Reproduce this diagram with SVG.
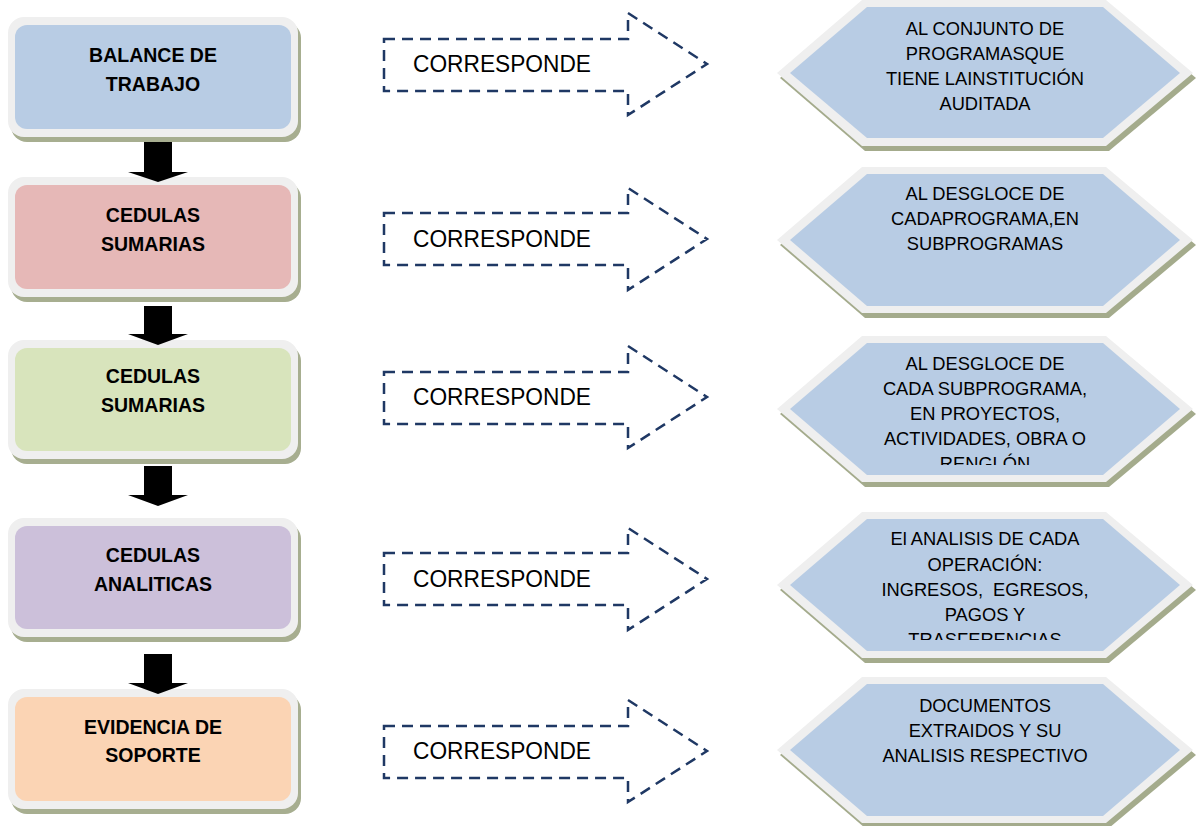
<svg xmlns="http://www.w3.org/2000/svg" width="1196" height="826" viewBox="0 0 1196 826">
<style>
.bshadow{fill:#a7ae90}
.bouter{fill:#efefef}
.btext{font-family:"Liberation Sans",Arial,sans-serif;font-weight:bold;font-size:19.5px;fill:#000;text-anchor:middle}
.hshadow{fill:#a4ab8c}
.houter{fill:#efefef}
.hinner{fill:#b8cce4}
.htext{font-family:"Liberation Sans",Arial,sans-serif;font-size:18.3px;fill:#000;text-anchor:middle}
.darrow{fill:none;stroke:#1f3864;stroke-width:2.5;stroke-dasharray:11 7}
.ctext{font-family:"Liberation Sans",Arial,sans-serif;font-size:23px;fill:#000}
.flow{fill:#000}
</style>
<defs>
<clipPath id="clip3"><rect x="790" y="343" width="390" height="122"/></clipPath>
<clipPath id="clip4"><rect x="790" y="519" width="390" height="121"/></clipPath>
</defs>

<g id="box1">
<rect class="bshadow" x="11" y="22" width="290" height="120" rx="16"/>
<rect class="bouter" x="8" y="17" width="290" height="120" rx="16"/>
<rect x="15" y="25" width="276" height="104" rx="12" fill="#b8cce4"/>
<text class="btext" x="153" y="62">BALANCE DE</text>
<text class="btext" x="153" y="91">TRABAJO</text>
</g>
<g id="box2">
<rect class="bshadow" x="11" y="182" width="290" height="120" rx="16"/>
<rect class="bouter" x="8" y="177" width="290" height="120" rx="16"/>
<rect x="15" y="185" width="276" height="104" rx="12" fill="#e6b8b7"/>
<text class="btext" x="153" y="222">CEDULAS</text>
<text class="btext" x="153" y="251">SUMARIAS</text>
</g>
<g id="box3">
<rect class="bshadow" x="11" y="345" width="290" height="119" rx="16"/>
<rect class="bouter" x="8" y="340" width="290" height="119" rx="16"/>
<rect x="15" y="348" width="276" height="103" rx="12" fill="#d8e4bc"/>
<text class="btext" x="153" y="383">CEDULAS</text>
<text class="btext" x="153" y="412">SUMARIAS</text>
</g>
<g id="box4">
<rect class="bshadow" x="11" y="523" width="290" height="119" rx="16"/>
<rect class="bouter" x="8" y="518" width="290" height="119" rx="16"/>
<rect x="15" y="526" width="276" height="103" rx="12" fill="#ccc0da"/>
<text class="btext" x="153" y="562">CEDULAS</text>
<text class="btext" x="153" y="591">ANALITICAS</text>
</g>
<g id="box5">
<rect class="bshadow" x="11" y="694" width="290" height="120" rx="16"/>
<rect class="bouter" x="8" y="689" width="290" height="120" rx="16"/>
<rect x="15" y="697" width="276" height="104" rx="12" fill="#fbd4b4"/>
<text class="btext" x="153" y="734">EVIDENCIA DE</text>
<text class="btext" x="153" y="762">SOPORTE</text>
</g>

<g id="hex1">
<polygon class="hshadow" points="780,78 865,5 1109,5 1196,78 1109,151 865,151"/>
<polygon class="houter" points="777,73 862,0 1106,0 1193,73 1106,146 862,146"/>
<polygon class="hinner" points="790,73 867,7 1103,7 1180,73 1103,138 867,138"/>
<text class="htext" x="985" y="35">AL CONJUNTO DE</text>
<text class="htext" x="985" y="60">PROGRAMASQUE</text>
<text class="htext" x="985" y="85">TIENE LAINSTITUCIÓN</text>
<text class="htext" x="985" y="110">AUDITADA</text>
</g>
<g id="hex2">
<polygon class="hshadow" points="780,245 865,172 1109,172 1196,245 1109,318 865,318"/>
<polygon class="houter" points="777,240 862,167 1106,167 1193,240 1106,313 862,313"/>
<polygon class="hinner" points="790,240 867,174 1103,174 1180,240 1103,306 867,306"/>
<text class="htext" x="985" y="200">AL DESGLOCE DE</text>
<text class="htext" x="985" y="225">CADAPROGRAMA,EN</text>
<text class="htext" x="985" y="250">SUBPROGRAMAS</text>
</g>
<g id="hex3">
<polygon class="hshadow" points="780,414 865,341 1109,341 1196,414 1109,487 865,487"/>
<polygon class="houter" points="777,409 862,336 1106,336 1193,409 1106,482 862,482"/>
<polygon class="hinner" points="790,409 867,343 1103,343 1180,409 1103,475 867,475"/>
<g clip-path="url(#clip3)">
<text class="htext" x="985" y="370">AL DESGLOCE DE</text>
<text class="htext" x="985" y="395">CADA SUBPROGRAMA,</text>
<text class="htext" x="985" y="420">EN PROYECTOS,</text>
<text class="htext" x="985" y="445">ACTIVIDADES, OBRA O</text>
<text class="htext" x="985" y="470">RENGLÓN</text>
</g>
</g>
<g id="hex4">
<polygon class="hshadow" points="780,590 865,517 1109,517 1196,590 1109,663 865,663"/>
<polygon class="houter" points="777,585 862,512 1106,512 1193,585 1106,658 862,658"/>
<polygon class="hinner" points="790,585 867,519 1103,519 1180,585 1103,651 867,651"/>
<g clip-path="url(#clip4)">
<text class="htext" x="985" y="545">El ANALISIS DE CADA</text>
<text class="htext" x="985" y="571">OPERACIÓN:</text>
<text class="htext" x="985" y="596" xml:space="preserve">INGRESOS,  EGRESOS,</text>
<text class="htext" x="985" y="621">PAGOS Y</text>
<text class="htext" x="985" y="646">TRASFERENCIAS</text>
</g>
</g>
<g id="hex5">
<polygon class="hshadow" points="780,755 865,682 1109,682 1196,755 1109,828 865,828"/>
<polygon class="houter" points="777,750 862,677 1106,677 1193,750 1106,823 862,823"/>
<polygon class="hinner" points="790,750 867,684 1103,684 1180,750 1103,816 867,816"/>
<text class="htext" x="985" y="712">DOCUMENTOS</text>
<text class="htext" x="985" y="737">EXTRAIDOS Y SU</text>
<text class="htext" x="985" y="762">ANALISIS RESPECTIVO</text>
</g>

<g id="connectors">
<polygon class="flow" points="144,142 172,142 172,172 188,172 158,182 128,172 144,172"/>
<polygon class="flow" points="144,306 172,306 172,334 188,334 158,345 128,334 144,334"/>
<polygon class="flow" points="144,466 172,466 172,495 188,495 158,506 128,495 144,495"/>
<polygon class="flow" points="144,654 172,654 172,683 188,683 158,694 128,683 144,683"/>

<g id="corr1">
<path class="darrow" d="M384,39 H628 V13 L707,64 L628,115 V91 H384 Z"/>
<text class="ctext" x="413" y="72" textLength="178" lengthAdjust="spacingAndGlyphs">CORRESPONDE</text>
</g>
<g id="corr2">
<path class="darrow" d="M384,213 H628 V188 L707,239 L628,290 V265 H384 Z"/>
<text class="ctext" x="413" y="247" textLength="178" lengthAdjust="spacingAndGlyphs">CORRESPONDE</text>
</g>
<g id="corr3">
<path class="darrow" d="M384,372 H628 V346 L707,397 L628,448 V424 H384 Z"/>
<text class="ctext" x="413" y="405" textLength="178" lengthAdjust="spacingAndGlyphs">CORRESPONDE</text>
</g>
<g id="corr4">
<path class="darrow" d="M384,553 H628 V528 L707,579 L628,630 V605 H384 Z"/>
<text class="ctext" x="413" y="587" textLength="178" lengthAdjust="spacingAndGlyphs">CORRESPONDE</text>
</g>
<g id="corr5">
<path class="darrow" d="M384,726 H628 V700 L707,751 L628,802 V778 H384 Z"/>
<text class="ctext" x="413" y="759" textLength="178" lengthAdjust="spacingAndGlyphs">CORRESPONDE</text>
</g>
</g>
</svg>
